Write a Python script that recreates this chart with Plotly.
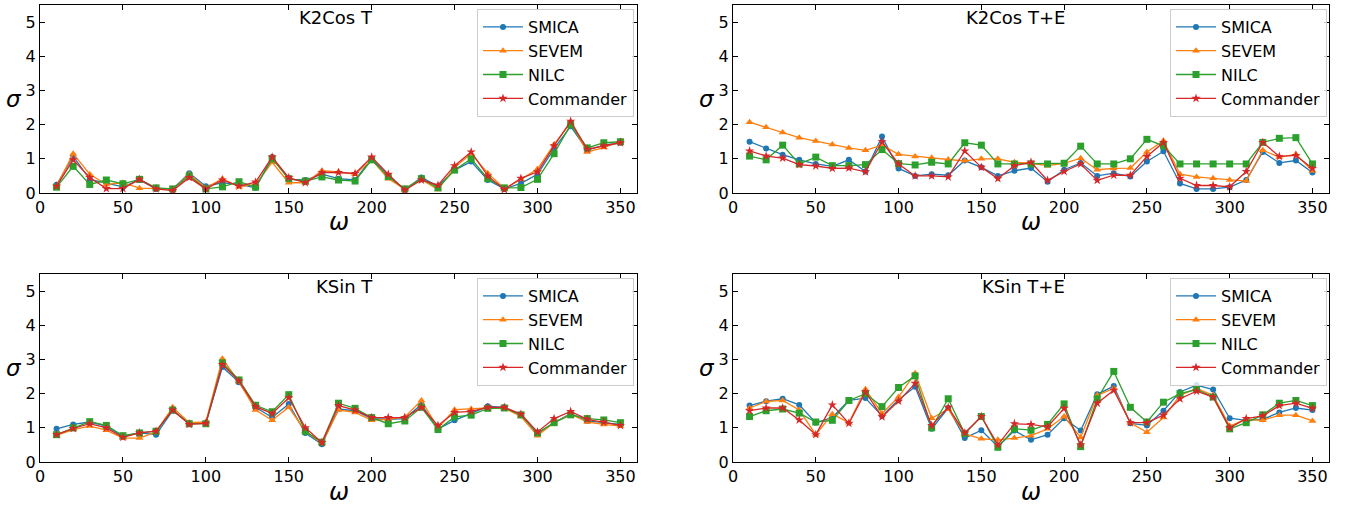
import plotly.graph_objects as go

omega = list(range(10, 351, 10))

# Panel 1: K2Cos T
k2cos_t_smica = [0.24,1.08,0.40,0.30,0.18,0.38,0.12,0.12,0.58,0.20,0.30,0.25,0.15,1.05,0.40,0.38,0.55,0.42,0.38,1.00,0.50,0.10,0.45,0.20,0.67,0.92,0.38,0.12,0.28,0.55,1.30,1.95,1.25,1.40,1.47]
k2cos_t_sevem = [0.20,1.15,0.55,0.25,0.30,0.14,0.13,0.10,0.55,0.15,0.42,0.18,0.25,0.90,0.30,0.30,0.65,0.62,0.55,0.97,0.42,0.12,0.40,0.10,0.75,1.15,0.58,0.13,0.40,0.70,1.42,2.05,1.20,1.33,1.52]
k2cos_t_nilc = [0.17,0.78,0.25,0.38,0.27,0.40,0.15,0.12,0.50,0.12,0.18,0.33,0.17,1.00,0.42,0.35,0.47,0.38,0.35,0.97,0.48,0.12,0.42,0.15,0.67,1.00,0.42,0.15,0.16,0.40,1.15,2.00,1.32,1.47,1.50]
k2cos_t_commander = [0.20,0.97,0.45,0.13,0.13,0.40,0.12,0.07,0.45,0.12,0.38,0.20,0.32,1.05,0.45,0.30,0.60,0.60,0.57,1.05,0.55,0.08,0.38,0.23,0.80,1.20,0.50,0.10,0.43,0.62,1.38,2.10,1.28,1.38,1.47]

# Panel 2: K2Cos T+E
k2cos_te_smica = [1.50,1.30,1.12,0.97,0.85,0.78,0.97,0.63,1.65,0.72,0.50,0.55,0.52,0.95,0.75,0.50,0.65,0.73,0.33,0.68,0.88,0.50,0.58,0.48,0.92,1.22,0.28,0.12,0.12,0.17,0.38,1.20,0.88,0.95,0.60]
k2cos_te_sevem = [2.07,1.92,1.77,1.62,1.52,1.42,1.32,1.25,1.40,1.13,1.07,1.03,0.98,0.94,1.00,1.00,0.90,0.87,0.80,0.87,1.02,0.68,0.72,0.73,1.20,1.53,0.55,0.47,0.43,0.38,0.35,1.25,1.05,1.13,0.65]
k2cos_te_nilc = [1.08,0.97,1.40,0.85,1.05,0.80,0.80,0.83,1.27,0.86,0.82,0.90,0.85,1.47,1.40,0.85,0.85,0.85,0.85,0.87,1.37,0.85,0.85,1.00,1.57,1.38,0.85,0.85,0.85,0.85,0.85,1.48,1.60,1.62,0.85]
k2cos_te_commander = [1.23,1.08,1.02,0.83,0.79,0.72,0.73,0.62,1.50,0.85,0.50,0.50,0.47,1.23,0.75,0.42,0.80,0.90,0.37,0.63,0.85,0.37,0.52,0.52,1.07,1.48,0.43,0.22,0.22,0.18,0.63,1.48,1.07,1.10,0.72]

# Panel 3: KSin T
ksin_t_smica = [0.97,1.10,1.17,1.05,0.75,0.85,0.80,1.50,1.13,1.13,2.78,2.33,1.60,1.30,1.70,0.85,0.52,1.55,1.50,1.27,1.25,1.27,1.68,0.97,1.22,1.42,1.63,1.60,1.37,0.83,1.15,1.42,1.20,1.15,1.10]
ksin_t_sevem = [0.78,0.95,1.05,0.93,0.70,0.70,0.88,1.60,1.15,1.17,3.02,2.35,1.52,1.22,1.60,0.90,0.55,1.52,1.45,1.22,1.25,1.32,1.80,1.00,1.53,1.55,1.58,1.57,1.33,0.77,1.15,1.40,1.17,1.10,1.05]
ksin_t_nilc = [0.80,1.00,1.18,1.07,0.77,0.85,0.90,1.52,1.12,1.12,2.90,2.40,1.66,1.47,1.97,0.90,0.58,1.72,1.57,1.30,1.12,1.20,1.60,0.95,1.32,1.37,1.57,1.58,1.38,0.85,1.15,1.38,1.27,1.23,1.15]
ksin_t_commander = [0.80,0.98,1.12,1.00,0.72,0.85,0.90,1.52,1.10,1.13,2.85,2.37,1.62,1.42,1.88,1.00,0.57,1.65,1.52,1.30,1.30,1.30,1.60,1.07,1.45,1.48,1.60,1.60,1.40,0.88,1.27,1.48,1.25,1.17,1.07]

# Panel 4: KSin T+E
ksin_te_smica = [1.65,1.78,1.85,1.67,1.15,1.30,1.80,1.87,1.35,1.82,2.20,0.97,1.58,0.70,0.93,0.45,0.92,0.65,0.80,1.28,0.92,1.98,2.22,1.13,1.07,1.50,2.05,2.25,2.12,1.28,1.22,1.25,1.45,1.58,1.52]
ksin_te_sevem = [1.58,1.77,1.80,1.52,0.80,1.40,1.15,2.13,1.42,1.90,2.60,1.28,1.55,0.82,0.68,0.65,0.70,0.77,0.97,1.33,0.72,1.95,2.15,1.15,0.87,1.30,1.95,2.15,1.95,1.05,1.25,1.22,1.37,1.37,1.20]
ksin_te_nilc = [1.33,1.50,1.55,1.43,1.17,1.22,1.80,2.00,1.62,2.18,2.52,1.00,1.85,0.83,1.33,0.43,0.97,0.93,1.10,1.70,0.45,1.85,2.65,1.60,1.17,1.75,2.00,2.12,1.90,0.97,1.15,1.38,1.72,1.80,1.65]
ksin_te_commander = [1.50,1.58,1.58,1.23,0.80,1.67,1.13,2.05,1.32,1.78,2.30,1.07,1.60,0.85,1.33,0.50,1.12,1.10,1.03,1.57,0.50,1.72,2.10,1.15,1.15,1.37,1.85,2.07,1.90,1.00,1.27,1.35,1.65,1.72,1.57]

panel_titles = ["K2Cos T", "K2Cos T+E", "KSin T", "KSin T+E"]
series_names = ["SMICA", "SEVEM", "NILC", "Commander"]
panels = [
    [k2cos_t_smica, k2cos_t_sevem, k2cos_t_nilc, k2cos_t_commander],
    [k2cos_te_smica, k2cos_te_sevem, k2cos_te_nilc, k2cos_te_commander],
    [ksin_t_smica, ksin_t_sevem, ksin_t_nilc, ksin_t_commander],
    [ksin_te_smica, ksin_te_sevem, ksin_te_nilc, ksin_te_commander],
]
x_ticks = [0, 50, 100, 150, 200, 250, 300, 350]
y_ticks = [0, 1, 2, 3, 4, 5]

colors = ["#1f77b4", "#ff7f0e", "#2ca02c", "#d62728"]
symbols = ["circle", "triangle-up", "square", "star"]
msizes = [6, 7, 7, 7]

W, H = 1354, 506
ml, mr, mt, mb = 40, 25, 5, 44
pw, ph = W - ml - mr, H - mt - mb

def px_x(p):
    return (p - ml) / pw

def px_y(p):
    return (H - mb - p) / ph

xdoms = [[px_x(40), px_x(637)], [px_x(733), px_x(1329)]]
ydoms = [[px_y(193), px_y(5)], [px_y(462), px_y(274)]]

fig = go.Figure()
legend_names = ["legend", "legend2", "legend3", "legend4"]
axis_font = dict(family="DejaVu Sans", size=16, color="black")

for i, (title, series) in enumerate(zip(panel_titles, panels)):
    row, col = divmod(i, 2)
    ax = "" if i == 0 else str(i + 1)
    for j, (name, vals) in enumerate(zip(series_names, series)):
        fig.add_trace(go.Scatter(
            x=omega, y=vals, name=name, mode="lines+markers",
            line=dict(color=colors[j], width=1.3),
            marker=dict(symbol=symbols[j], size=msizes[j], color=colors[j]),
            xaxis="x" + ax, yaxis="y" + ax, legend=legend_names[i],
        ))
    common = dict(showline=True, linecolor="black", linewidth=1.2, mirror="ticks",
                  ticks="inside", ticklen=5, tickwidth=1, tickcolor="black",
                  showgrid=False, zeroline=False, tickfont=axis_font)
    fig.update_layout(**{
        "xaxis" + ax: dict(domain=xdoms[col], range=[0, 360], tickvals=x_ticks,
                           anchor="y" + ax, **common),
        "yaxis" + ax: dict(domain=ydoms[row], range=[0, 5.5], tickvals=y_ticks,
                           anchor="x" + ax, **common),
    })
    lx = px_x(477 + col * 693)
    ly = px_y(9 + row * 269)
    fig.update_layout(**{legend_names[i]: dict(
        x=lx, y=ly, xanchor="left", yanchor="top",
        bgcolor="rgba(255,255,255,0.8)", bordercolor="#cccccc", borderwidth=1,
        font=dict(family="DejaVu Sans", size=16, color="black"),
        tracegroupgap=0, itemwidth=40,
    )})
    fig.add_annotation(text=title, xref="x" + ax, yref="y" + ax + " domain",
                       x=202, y=0.985, yshift=3, xanchor="right", yanchor="top",
                       showarrow=False, font=dict(family="DejaVu Sans", size=18, color="black"))
    cx = (xdoms[col][0] + xdoms[col][1]) / 2
    fig.add_annotation(text="<i>ω</i>", xref="paper", yref="paper", x=cx,
                       y=px_y(222 + row * 270), xanchor="center", yanchor="middle",
                       showarrow=False, font=dict(family="DejaVu Sans", size=24, color="black"))
    fig.add_annotation(text="<i>σ</i>", xref="paper", yref="paper",
                       x=px_x(14 + col * 693), y=(ydoms[row][0] + ydoms[row][1]) / 2,
                       xanchor="center", yanchor="middle",
                       showarrow=False, font=dict(family="DejaVu Sans", size=23, color="black"))

fig.update_layout(width=W, height=H, margin=dict(l=ml, r=mr, t=mt, b=mb),
                  plot_bgcolor="white", paper_bgcolor="white", showlegend=True)

fig.write_html("out.html", config={"displayModeBar": False},
               post_script="document.body.style.margin='0px';document.body.style.overflow='hidden';")
